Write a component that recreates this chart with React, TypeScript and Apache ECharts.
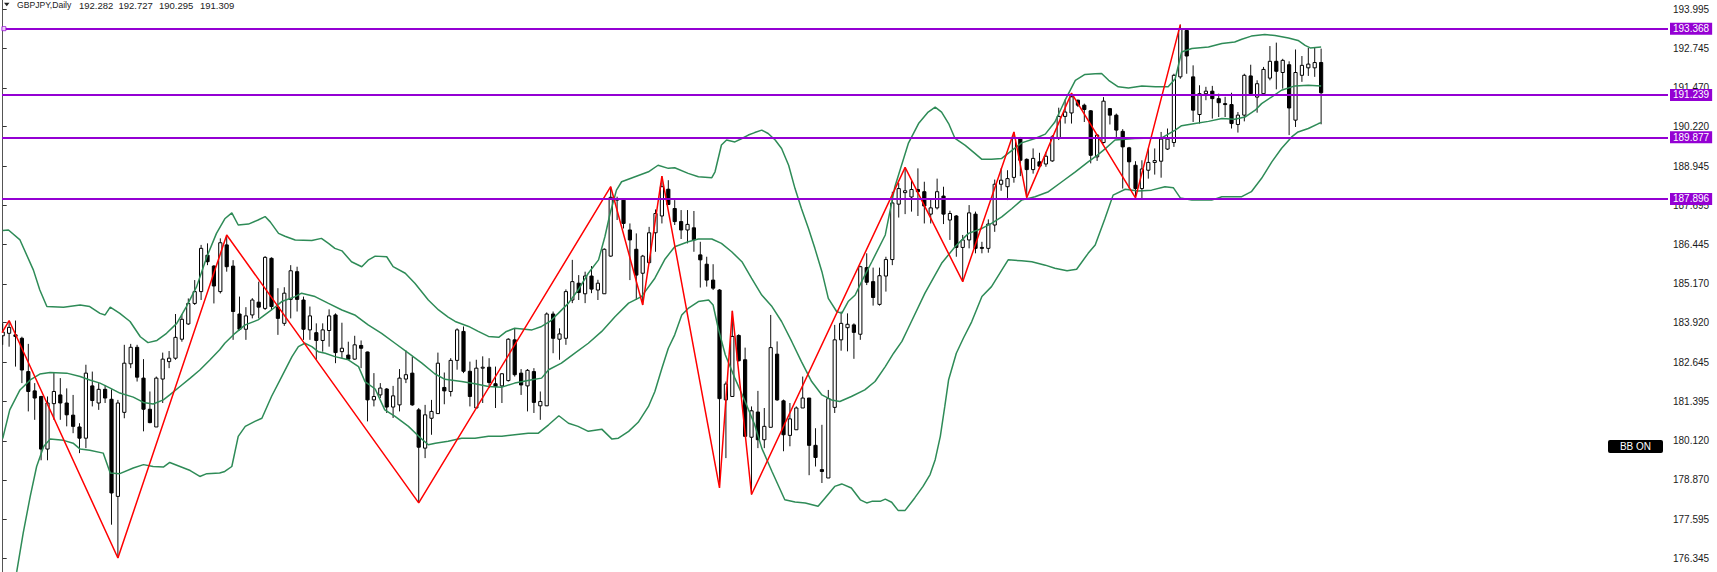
import React, { useEffect, useRef } from "react";
import * as echarts from "echarts";

// ---- price data (daily GBPJPY candles, index 0 = leftmost) ----
const opens = [
  183.50,183.58,183.53,183.42,182.35,181.73,181.55,179.86,181.32,181.60,
  181.34,180.95,180.57,180.21,181.89,181.34,181.78,181.46,178.34,181.04,
  182.60,183.13,182.14,181.14,180.57,182.11,182.67,182.78,183.39,183.88,
  184.54,184.92,186.09,185.74,184.92,186.42,185.74,184.20,183.71,184.17,
  184.58,184.38,185.99,184.42,183.90,184.67,185.56,184.65,183.69,183.60,
  183.35,183.67,184.17,182.99,182.88,182.75,183.19,182.98,181.44,181.60,
  181.79,181.21,181.28,182.11,182.30,181.12,179.89,180.85,181.00,181.84,
  181.71,182.71,183.64,182.36,181.18,182.46,182.49,181.96,181.89,182.06,
  183.37,182.30,181.89,182.35,181.25,181.25,184.20,183.39,183.42,184.65,
  185.19,184.85,185.42,184.97,184.85,186.06,187.91,187.86,186.90,186.28,
  185.51,185.85,186.81,187.35,188.21,187.59,187.17,186.90,186.97,186.10,
  185.80,185.29,184.97,181.44,181.55,183.51,182.73,180.24,181.05,180.16,
  180.56,182.91,181.41,180.30,180.48,181.18,181.50,179.98,179.20,178.93,
  181.20,183.37,183.76,183.85,183.55,185.69,185.24,184.51,185.42,185.95,
  187.73,188.10,187.96,188.20,188.13,187.41,187.61,187.99,187.22,187.35,
  186.34,186.58,187.41,186.34,186.31,187.06,188.37,188.29,188.59,189.84,
  189.17,188.84,189.09,189.02,189.12,189.87,190.55,190.66,191.07,190.91,
  190.73,189.25,189.71,190.80,190.59,190.07,189.54,188.98,188.23,188.82,
  189.07,189.11,189.50,189.71,191.82,193.31,191.82,190.61,191.28,191.36,
  191.12,190.96,190.93,190.29,190.59,191.85,191.17,191.28,191.78,192.32,
  191.96,192.21,190.43,191.87,192.11,192.11,192.282,
];
const highs = [
  183.90,183.96,183.99,183.47,183.24,181.98,181.57,181.55,182.32,182.14,
  181.81,181.60,180.69,182.57,182.35,181.98,181.92,181.78,181.44,183.21,
  183.24,183.21,182.75,181.71,182.19,182.96,183.01,184.20,184.20,184.70,
  185.29,186.42,186.47,185.77,186.63,186.74,185.93,184.76,184.42,184.71,
  185.24,186.06,186.02,185.03,185.06,185.77,185.72,184.76,184.44,183.90,
  183.90,184.35,184.22,183.92,183.31,183.50,183.35,182.99,182.30,181.98,
  181.82,181.89,182.43,183.03,182.83,181.18,181.28,181.44,182.96,182.32,
  182.78,183.74,183.80,182.67,182.73,182.84,182.78,182.51,182.30,183.42,
  183.74,182.43,182.43,182.46,181.71,184.25,184.28,183.74,184.99,185.94,
  185.45,185.56,185.74,185.30,186.31,188.29,187.97,187.88,187.11,186.79,
  186.10,187.00,187.56,188.63,188.50,187.86,187.54,187.54,187.51,186.52,
  186.04,185.80,185.00,182.03,184.30,183.55,183.12,181.23,181.73,181.18,
  184.17,183.32,181.45,181.34,181.23,182.19,181.50,180.53,180.64,181.76,
  183.85,184.28,184.22,183.90,185.75,186.15,185.69,185.69,186.04,188.13,
  188.41,188.91,188.50,188.88,188.45,187.88,188.55,188.29,187.52,187.38,
  186.74,187.70,187.49,186.52,187.24,188.52,188.88,188.82,190.05,189.89,
  189.20,189.52,189.38,189.41,189.95,190.83,191.09,191.30,191.09,190.96,
  190.75,189.98,191.17,190.82,190.64,190.14,189.57,189.11,189.14,189.52,
  189.52,190.05,190.16,191.92,193.50,193.35,192.19,191.55,191.50,191.53,
  191.28,191.18,191.31,190.69,191.92,192.21,191.71,192.14,192.81,192.92,
  192.40,192.32,192.70,192.49,192.75,192.75,192.727,
];
const lows = [
  183.21,183.15,182.51,181.98,181.07,180.80,179.50,179.50,180.80,180.80,
  180.59,180.37,179.73,179.89,181.23,181.12,181.34,177.43,176.36,180.85,
  182.46,182.03,180.43,180.69,180.57,181.34,182.46,182.73,183.31,183.85,
  184.49,184.65,185.77,184.54,184.86,185.56,183.37,183.67,183.37,184.06,
  184.06,184.33,184.33,183.53,183.82,184.06,184.28,183.37,183.37,182.73,
  182.99,183.15,182.62,182.78,182.72,182.73,182.46,180.75,181.23,181.50,
  181.02,180.86,181.07,181.98,181.25,178.13,179.57,180.32,181.02,181.30,
  181.55,182.41,182.30,181.23,181.18,181.34,181.82,181.18,181.34,182.03,
  182.19,181.60,181.07,181.02,180.80,181.25,182.94,182.73,183.21,184.55,
  184.65,184.55,184.87,184.65,184.85,186.04,187.22,186.95,185.29,184.65,
  184.49,185.83,186.20,187.11,187.70,187.06,186.61,186.47,186.20,185.05,
  185.08,184.97,178.61,179.57,181.55,182.67,180.25,178.40,179.89,179.89,
  180.56,181.41,179.79,179.95,180.48,181.18,179.02,179.30,178.77,178.93,
  181.02,183.02,183.00,182.76,183.37,185.13,184.47,184.47,184.92,185.77,
  187.30,187.41,187.49,187.35,187.11,187.11,187.56,187.09,186.58,186.04,
  185.24,186.31,186.15,186.15,186.17,186.84,188.16,187.86,188.42,188.63,
  187.94,188.71,188.91,188.93,189.09,189.79,190.32,190.32,190.85,190.37,
  189.04,189.12,189.68,190.29,189.84,188.23,188.23,187.93,187.91,188.55,
  188.68,188.58,189.47,189.57,191.76,191.92,190.37,190.32,191.07,190.48,
  190.53,190.53,190.16,190.03,190.39,191.25,190.67,191.25,191.71,191.42,
  191.44,189.95,190.21,191.66,191.85,191.82,190.295,
];
const closes = [
  183.62,183.77,183.48,182.40,181.71,181.50,179.86,181.34,181.71,181.34,
  180.96,180.59,180.21,182.30,181.42,181.78,181.50,178.45,181.34,182.62,
  183.13,182.17,181.14,180.71,182.14,182.75,182.78,183.45,184.03,184.54,
  184.92,186.31,185.88,185.10,186.49,185.72,184.28,183.71,184.14,184.65,
  184.42,186.02,184.44,184.06,184.87,185.59,184.67,183.71,184.14,183.35,
  183.69,184.14,182.96,183.10,182.75,183.21,183.10,181.44,181.55,181.82,
  181.21,181.57,182.14,182.25,181.28,179.92,180.96,181.07,182.62,181.73,
  182.71,183.69,182.36,181.55,182.46,182.49,182.00,181.87,182.28,183.39,
  182.25,181.92,182.39,181.36,181.39,184.20,183.42,183.56,184.92,185.24,
  184.89,185.42,185.00,185.19,186.28,187.95,187.86,187.11,186.58,185.45,
  186.06,186.81,187.43,188.29,187.72,187.17,186.90,187.08,186.58,185.94,
  185.29,185.03,181.48,181.95,183.48,182.70,180.27,181.09,180.16,180.59,
  183.12,181.44,180.32,180.83,181.18,181.50,179.98,179.59,179.14,181.48,
  183.37,183.90,183.87,183.61,185.72,185.22,184.73,185.43,185.95,187.77,
  188.23,188.16,188.20,188.13,187.67,187.61,188.13,187.41,187.43,186.34,
  186.58,187.45,186.31,186.31,187.09,188.37,188.50,188.55,189.84,189.14,
  188.84,189.20,188.95,189.27,189.89,190.55,190.69,191.18,190.91,190.77,
  189.30,189.95,191.04,190.59,190.11,189.57,189.09,188.23,188.86,189.07,
  189.13,189.82,189.82,191.87,193.35,192.49,190.75,191.28,191.36,191.12,
  190.99,190.93,190.32,190.59,191.87,191.28,191.60,192.06,192.32,192.00,
  192.35,190.82,191.96,192.19,192.23,192.28,191.309,
];

// ---- Bollinger bands as [candle index, price] ----
const upperBand = [
  [0,186.88],[0.9,186.90],[2.7,186.58],[4.8,185.61],[5.8,184.97],[6.9,184.44],[9.5,184.42],[12.1,184.49],
  [13.6,184.44],[15.2,184.22],[16.0,184.17],[16.8,184.42],[18.3,184.22],[19.9,183.96],[21.5,183.47],[22.7,183.28],
  [24.1,183.35],[25.6,183.58],[27.2,183.90],[28.7,184.44],[30.3,185.08],[31.9,186.04],[33.4,186.79],[34.7,187.26],
  [35.8,187.45],[36.8,187.06],[38.4,187.09],[39.9,187.22],[41.0,187.33],[41.8,187.16],[43.1,186.79],[44.1,186.70],
  [45.7,186.58],[48.3,186.56],[49.8,186.63],[50.9,186.47],[51.9,186.31],[53.0,186.23],[54.5,185.88],[56.1,185.72],
  [57.1,185.93],[58.2,186.06],[60.0,186.04],[61.0,185.72],[62.9,185.51],[64.4,185.19],[66.5,184.65],[68.1,184.33],
  [69.6,184.10],[70.7,183.96],[72.8,183.80],[74.3,183.64],[75.9,183.48],[77.5,183.45],[78.7,183.64],[80.0,183.74],
  [82.7,183.69],[84.2,183.80],[85.5,183.96],[86.8,184.22],[88.4,184.55],[89.9,184.97],[91.5,185.51],[93.1,185.94],
  [94.1,186.69],[94.9,187.43],[95.9,188.18],[96.7,188.45],[98.8,188.61],[100.9,188.77],[102.4,188.98],[104.0,188.88],
  [105.0,188.90],[107.1,188.72],[108.7,188.61],[110.8,188.58],[111.3,188.77],[112.3,189.63],[113.1,189.79],[114.4,189.73],
  [115.5,189.84],[116.5,189.95],[117.5,190.03],[118.6,190.11],[119.6,190.00],[120.7,189.79],[121.7,189.52],[122.8,188.98],
  [123.8,188.23],[124.8,187.59],[125.9,186.95],[126.9,186.31],[128.0,185.56],[129.0,184.70],[130.3,184.28],[131.1,184.22],
  [132.1,184.60],[133.2,184.81],[134.2,185.24],[135.8,185.88],[137.9,186.74],[139.4,188.29],[141.5,189.68],[143.1,190.32],
  [144.6,190.69],[145.7,190.85],[146.7,190.69],[147.8,190.32],[148.8,189.84],[150.4,189.62],[151.9,189.36],[153.0,189.17],
  [154.5,189.17],[156.1,189.20],[157.7,189.46],[159.2,189.70],[161.3,189.84],[162.9,189.98],[164.4,190.37],[166.0,191.07],
  [167.6,191.71],[169.1,191.90],[170.7,191.92],[171.7,191.93],[172.8,191.71],[174.3,191.50],[175.9,191.46],[178.0,191.53],
  [180.1,191.50],[182.1,191.50],[183.2,191.76],[184.2,192.62],[185.8,192.73],[188.4,192.78],[190.5,192.89],[192.5,192.94],
  [193.6,193.03],[195.1,193.13],[197.2,193.18],[198.8,193.15],[200.9,193.07],[202.4,192.99],[203.5,192.83],[204.3,192.75],
  [206,192.78],
];
const middleBand = [
  [0,180.20],[1.1,181.12],[2.7,181.76],[4.3,182.08],[5.8,182.27],[7.4,182.32],[10.0,182.30],[12.1,182.19],
  [13.6,182.08],[15.2,181.98],[16.8,181.82],[18.3,181.66],[20.4,181.53],[22.0,181.36],[23.5,181.31],[25.1,181.44],
  [26.1,181.60],[27.7,181.87],[29.3,182.14],[30.8,182.40],[32.4,182.73],[33.9,183.05],[34.7,183.26],[36.3,183.58],
  [37.9,183.85],[39.9,184.01],[42.0,184.33],[43.6,184.60],[45.7,184.76],[46.7,184.87],[48.8,184.76],[50.9,184.54],
  [53.0,184.33],[55.0,184.17],[57.1,183.85],[59.2,183.58],[61.3,183.26],[63.4,182.94],[65.5,182.62],[67.5,182.28],
  [69.1,182.10],[71.7,182.03],[73.8,181.96],[75.9,181.87],[78.0,181.85],[80.0,181.98],[82.7,182.09],[84.2,182.14],
  [85.3,182.41],[87.3,182.62],[89.4,182.94],[91.5,183.26],[93.6,183.64],[95.7,184.12],[97.8,184.55],[99.8,184.76],
  [101.9,185.35],[103.5,185.97],[105.0,186.36],[107.1,186.52],[108.7,186.61],[110.8,186.61],[112.3,186.47],[113.9,186.20],
  [115.5,185.88],[117.0,185.35],[118.6,184.81],[120.2,184.44],[121.7,183.96],[123.3,183.31],[124.8,182.67],[126.4,182.03],
  [128.0,181.60],[129.5,181.44],[130.8,181.39],[132.6,181.55],[134.7,181.76],[136.3,182.03],[137.9,182.51],[139.2,182.94],
  [140.5,183.32],[141.5,183.75],[144.1,184.87],[146.7,185.83],[148.8,186.36],[150.9,186.79],[153.0,186.95],[154.5,187.11],
  [156.1,187.32],[157.7,187.59],[159.2,187.86],[161.3,187.97],[163.4,188.13],[165.5,188.45],[167.6,188.77],[169.6,189.09],
  [171.0,189.30],[172.2,189.50],[173.8,189.79],[176.9,189.84],[181.1,189.86],[183.2,190.11],[184.2,190.25],[186.3,190.32],
  [188.4,190.39],[190.5,190.48],[192.5,190.46],[194.1,190.53],[195.7,190.75],[196.7,190.96],[198.3,191.18],[199.8,191.39],
  [201.9,191.53],[204.0,191.55],[206,191.53],
];
const lowerBand = [
  [0,174.00],[2.2,175.93],[3.2,177.16],[4.3,178.34],[5.3,179.30],[6.4,179.94],[7.4,180.18],[9.5,180.14],
  [11.0,180.05],[12.1,179.86],[13.6,179.82],[15.7,179.73],[16.8,179.09],[18.3,179.07],[20.4,179.25],[22.0,179.36],
  [23.5,179.30],[25.1,179.28],[26.1,179.43],[27.7,179.30],[29.3,179.17],[30.8,178.98],[31.9,179.07],[33.9,179.09],
  [34.7,179.14],[35.8,179.30],[36.8,180.27],[37.9,180.59],[39.4,180.75],[40.5,180.85],[42.0,181.55],[43.6,182.19],
  [45.2,182.83],[46.2,183.15],[47.2,183.26],[48.3,183.15],[49.3,182.99],[50.4,182.94],[51.9,182.83],[54.0,182.73],
  [55.6,182.51],[56.6,182.03],[58.2,181.79],[59.7,181.12],[61.3,180.91],[63.4,180.59],[65.0,180.27],[66.5,180.00],
  [67.6,180.05],[69.6,180.11],[71.7,180.21],[73.8,180.21],[75.9,180.27],[78.0,180.27],[80.0,180.32],[82.1,180.37],
  [83.7,180.37],[85.3,180.64],[86.9,180.93],[88.4,180.69],[89.9,180.59],[91.5,180.43],[93.6,180.50],[95.2,180.18],
  [96.2,180.21],[97.8,180.43],[99.3,180.72],[100.9,181.23],[101.9,181.71],[103.0,182.46],[104.0,183.10],[105.0,183.53],
  [106.1,184.17],[107.1,184.38],[108.7,184.60],[110.3,184.65],[111.0,184.49],[111.8,183.74],[112.9,182.89],[114.4,182.14],
  [116.0,181.39],[117.5,180.64],[118.6,179.89],[120.2,179.14],[122.2,178.23],[123.8,178.16],[125.4,178.13],[127.4,178.02],
  [128.5,178.29],[130.0,178.66],[131.1,178.74],[132.6,178.61],[134.0,178.23],[135.0,178.13],[135.8,178.18],[137.1,178.18],
  [137.9,178.25],[138.9,178.15],[139.9,177.89],[141.0,177.89],[142.5,178.29],[143.8,178.66],[144.9,179.04],[145.7,179.52],
  [146.5,180.27],[147.2,181.23],[147.8,182.09],[149.0,182.94],[150.1,183.42],[151.4,183.95],[153.0,184.76],[154.5,185.08],
  [156.1,185.61],[157.1,185.94],[159.2,185.91],[160.8,185.88],[162.9,185.77],[164.4,185.67],[166.3,185.59],[167.8,185.64],
  [169.6,186.15],[170.7,186.42],[172.2,187.25],[173.5,188.02],[175.4,188.21],[177.4,188.15],[179.5,188.18],[181.6,188.29],
  [182.9,188.26],[184.0,187.93],[185.8,187.86],[188.9,187.86],[190.5,187.97],[193.6,187.97],[195.1,188.13],[196.7,188.56],
  [198.3,189.09],[199.8,189.52],[201.4,189.89],[202.4,190.05],[204.0,190.16],[205.6,190.32],[206,190.35],
];

// ---- ZigZag pivots [candle index, price] ----
const zigzag = [
  [-0.1,183.60],[1,183.99],[18,176.36],[35,186.74],[65,178.13],[95,188.29],[100,184.49],[103,188.63],
  [112,178.61],[114,184.30],[117,178.40],[141,188.91],[150,185.24],[158,190.05],[160,187.94],[167,191.30],
  [177,187.93],[184,193.50],
];

// ---- horizontal levels and price-axis ticks ----
const hLevels = [193.368, 191.239, 189.877, 187.896];
const priceTicks = [
  193.995, 192.745, 191.470, 190.220, 188.945, 187.695, 186.445, 185.170,
  183.920, 182.645, 181.395, 180.120, 178.870, 177.595, 176.345,
];
const symbolName = "GBPJPY,Daily";

const Y_MIN = 175.91;
const Y_MAX = 194.29;
const X_MIN = -0.11;
const X_MAX = 260.2;
const PURPLE = "#9400D3";
const GREEN = "#2E8B57";
const FONT = "Liberation Sans";

export default function App() {
  const ref = useRef<HTMLDivElement>(null);

  useEffect(() => {
    if (!ref.current) return;
    const chart = echarts.init(ref.current, undefined, { renderer: "svg" });
    const last = opens.length - 1;
    const candleData = opens.map((o, i) => [i, o, closes[i], lows[i], highs[i]]);
    const headerNums = [opens[last], highs[last], lows[last], closes[last]].map((v) => v.toFixed(3));
    const headerX = [79, 118.5, 159, 200];

    const bandSeries = (name: string, data: number[][]) => ({
      name,
      type: "line",
      data,
      showSymbol: false,
      symbol: "none",
      silent: true,
      z: 3,
      lineStyle: { color: GREEN, width: 1.5 },
      clip: true,
    });

    const option: any = {
      animation: false,
      backgroundColor: "#ffffff",
      grid: { left: 2, right: 49, top: 0, bottom: 0, containLabel: false },
      xAxis: {
        type: "value",
        min: X_MIN,
        max: X_MAX,
        show: false,
        splitLine: { show: false },
      },
      yAxis: [
        {
          type: "value",
          position: "right",
          min: Y_MIN,
          max: Y_MAX,
          axisLine: { show: true, lineStyle: { color: "#333", width: 1 } },
          axisTick: { show: true, customValues: priceTicks, length: 4, lineStyle: { color: "#333" } },
          axisLabel: {
            show: true,
            customValues: priceTicks,
            formatter: (v: number) => v.toFixed(3),
            color: "#1a1a1a",
            fontSize: 10,
            fontFamily: FONT,
            margin: 5,
          },
          splitLine: { show: false },
        },
        {
          type: "value",
          position: "left",
          min: Y_MIN,
          max: Y_MAX,
          axisLine: { show: true, lineStyle: { color: "#555", width: 1 } },
          axisTick: { show: false },
          axisLabel: { show: false },
          splitLine: { show: false },
        },
      ],
      series: [
        {
          name: "candles",
          type: "custom",
          data: candleData,
          encode: { x: 0, y: [1, 2, 3, 4] },
          clip: true,
          z: 2,
          silent: true,
          renderItem: (params: any, api: any) => {
            const x = api.value(0);
            const o = api.value(1);
            const c = api.value(2);
            const l = api.value(3);
            const h = api.value(4);
            const pO = api.coord([x, o]);
            const pC = api.coord([x, c]);
            const pL = api.coord([x, l]);
            const pH = api.coord([x, h]);
            const cx = pO[0];
            const top = Math.min(pO[1], pC[1]);
            const bot = Math.max(pO[1], pC[1]);
            const bull = c >= o;
            return {
              type: "group",
              children: [
                {
                  type: "line",
                  shape: { x1: cx, y1: pH[1], x2: cx, y2: pL[1] },
                  style: { stroke: "#111", lineWidth: 1 },
                },
                {
                  type: "rect",
                  shape: { x: cx - 1.6, y: top, width: 3.2, height: Math.max(bot - top, 0.8) },
                  style: { fill: bull ? "#ffffff" : "#000000", stroke: "#000", lineWidth: 1 },
                },
              ],
            };
          },
        },
        bandSeries("upper", upperBand),
        bandSeries("middle", middleBand),
        bandSeries("lower", lowerBand),
        {
          name: "zigzag",
          type: "line",
          data: zigzag,
          showSymbol: false,
          symbol: "none",
          silent: true,
          z: 4,
          lineStyle: { color: "#ff0000", width: 1.5 },
          clip: true,
        },
        {
          name: "levels",
          type: "line",
          data: [],
          z: 6,
          silent: true,
          markLine: {
            silent: true,
            animation: false,
            precision: 3,
            symbol: ["none", "none"],
            lineStyle: { color: PURPLE, width: 2, type: "solid" },
            label: {
              show: true,
              position: "end",
              distance: 2,
              formatter: (p: any) => Number(p.value).toFixed(3),
              backgroundColor: PURPLE,
              color: "#ffffff",
              fontSize: 10,
              fontFamily: FONT,
              lineHeight: 12,
              padding: [0, 3, 0, 3],
            },
            emphasis: { disabled: true },
            data: [
              {
                yAxis: closes[last],
                lineStyle: { opacity: 0 },
                label: { backgroundColor: "#000000", color: "#ffffff" },
              },
              ...hLevels.map((v) => ({ yAxis: v })),
            ],
          },
        },
        {
          name: "handle",
          type: "scatter",
          data: [[X_MIN + 0.3, hLevels[0]]],
          symbol: "rect",
          symbolSize: 4,
          silent: true,
          z: 7,
          itemStyle: { color: "#ffffff", borderColor: PURPLE, borderWidth: 1 },
        },
      ],
      graphic: [
        {
          type: "polygon",
          shape: { points: [[4, 2.7], [9.5, 2.7], [6.75, 6.2]] },
          style: { fill: "#222" },
          silent: true,
        },
        {
          type: "text",
          x: 17,
          y: 5,
          style: {
            text: symbolName,
            fill: "#222",
            font: '8.6px "Liberation Sans"',
            verticalAlign: "middle",
          },
          silent: true,
        },
        ...headerNums.map((t, k) => ({
          type: "text",
          x: headerX[k],
          y: 5,
          style: {
            text: t,
            fill: "#222",
            font: '9.5px "Liberation Sans"',
            verticalAlign: "middle",
          },
          silent: true,
        })),
        {
          type: "rect",
          shape: { x: 1608, y: 440, width: 55, height: 13, r: 2 },
          style: { fill: "#000" },
          silent: true,
        },
        {
          type: "text",
          x: 1635.5,
          y: 446.5,
          style: {
            text: "BB ON",
            fill: "#ffffff",
            font: '10px "Liberation Sans"',
            align: "center",
            verticalAlign: "middle",
          },
          silent: true,
        },
      ],
    };

    chart.setOption(option);
    return () => {
      chart.dispose();
    };
  }, []);

  return (
    <div
      ref={ref}
      style={{ position: "absolute", left: 0, top: 0, width: 1717, height: 572, background: "#fff" }}
    />
  );
}
